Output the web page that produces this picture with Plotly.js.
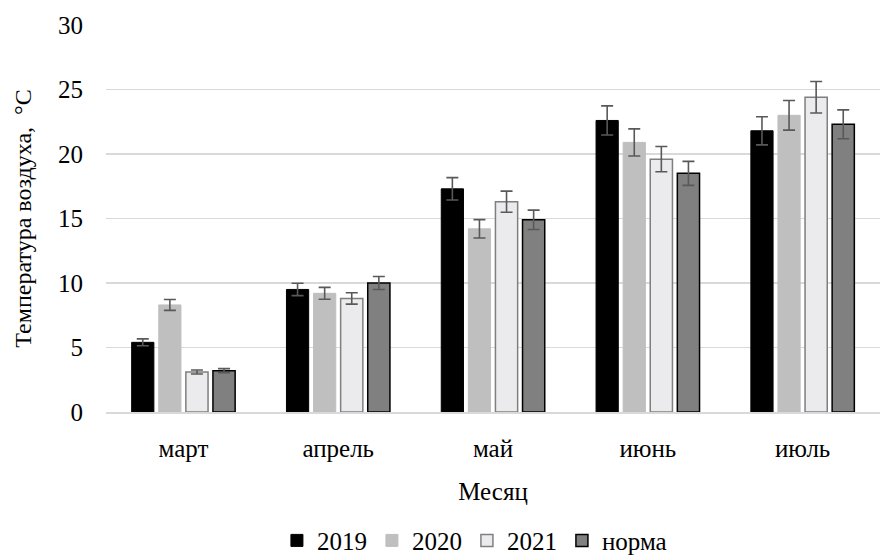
<!DOCTYPE html>
<html><head><meta charset="utf-8">
<script src="https://cdn.plot.ly/plotly-3.0.1.min.js"></script>
<style>html,body{margin:0;padding:0;background:#fff}#c{width:881px;height:556px}</style>
</head><body><div id="c"></div>
<script>
const months = ['март','апрель','май','июнь','июль'];
const v2019 = [5.4, 9.5, 17.3, 22.6, 21.8];
const v2020 = [8.3, 9.2, 14.2, 20.9, 23.0];
const v2021 = [3.1, 8.8, 16.3, 19.6, 24.4];
const vNorm = [3.2, 10.0, 14.9, 18.5, 22.3];
const e2019 = [0.27, 0.48, 0.87, 1.13, 1.09];
const e2020 = [0.42, 0.46, 0.71, 1.05, 1.15];
const e2021 = [0.16, 0.44, 0.82, 0.98, 1.22];
const eNorm = [0.16, 0.50, 0.75, 0.93, 1.12];
const names = ['2019','2020','2021','норма'];

const FAM = 'Liberation Serif, Times New Roman, serif';
function f(s){return {family:FAM, size:s, color:'#000'};}
function eb(arr){return {type:'data', array:arr, visible:true, color:'#595959', thickness:1.6, width:6};}
const traces = [
  {x:months, y:v2019, name:names[0], type:'bar', marker:{color:'#000000', line:{color:'#000', width:1}}, error_y:eb(e2019)},
  {x:months, y:v2020, name:names[1], type:'bar', marker:{color:'#bfbfbf', line:{color:'#bfbfbf', width:1}}, error_y:eb(e2020)},
  {x:months, y:v2021, name:names[2], type:'bar', marker:{color:'#ebebee', line:{color:'#7f7f7f', width:1.5}}, error_y:eb(e2021)},
  {x:months, y:vNorm, name:names[3], type:'bar', marker:{color:'#808080', line:{color:'#000', width:1.5}}, error_y:eb(eNorm)}
];
const layout = {
  width:881, height:556,
  margin:{l:106, r:1, t:25, b:144, autoexpand:false},
  paper_bgcolor:'#fff', plot_bgcolor:'#fff',
  font:f(25),
  barmode:'group', bargap:0.3, bargroupgap:0.18,
  showlegend:true,
  legend:{orientation:'h', x:0.476, xanchor:'center', y:-0.273, yanchor:'top', font:f(25), itemwidth:30, traceorder:'normal', tracegroupgap:0},
  xaxis:{showgrid:false, showline:true, linecolor:'#d9d9d9', linewidth:1.5, ticks:'', tickfont:f(25), ticklabelstandoff:13, automargin:false,
    title:{text:'Месяц', font:f(25), standoff:22}},
  yaxis:{range:[0,30], dtick:5, tick0:0, showgrid:true, gridcolor:'#d9d9d9', gridwidth:1.5, zeroline:false, showline:false, ticks:'',
    tickfont:f(25), ticklabelstandoff:22, automargin:false,
    title:{text:'Температура воздуха,  °С', font:f(24), standoff:19}}
};
Plotly.newPlot('c', traces, layout, {staticPlot:true, displayModeBar:false});
</script></body></html>
